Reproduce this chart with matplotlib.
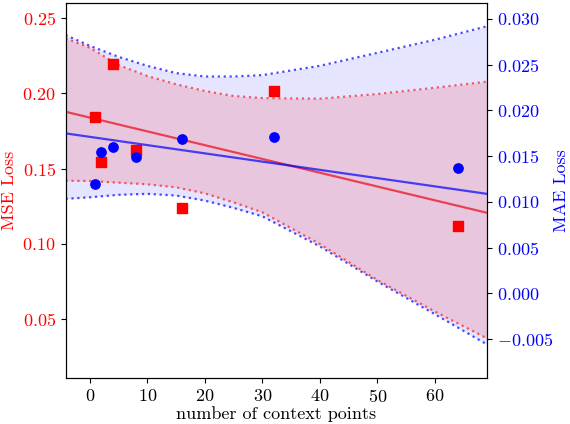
import numpy as np
import matplotlib
matplotlib.use('Agg')
import matplotlib.pyplot as plt

plt.rcParams['font.family'] = 'serif'
plt.rcParams['font.serif'] = ['cmr10', 'DejaVu Serif']
plt.rcParams['mathtext.fontset'] = 'cm'
plt.rcParams['axes.formatter.use_mathtext'] = True
plt.rcParams['font.size'] = 13

# measured losses
context_points = [1, 2, 4, 8, 16, 32, 64]
mse_loss = [0.184, 0.154, 0.2194, 0.162, 0.1238, 0.2015, 0.112]
mae_loss = [0.0119, 0.01542, 0.01597, 0.0149, 0.01685, 0.01707, 0.01367]

# trend lines and 95% bands
band_x = [-4.2, 0, 5, 10, 15, 20, 25, 30, 40, 50, 60, 69]
mse_upper = [0.2365, 0.2303, 0.2188, 0.2115, 0.2060, 0.2015,
             0.1982, 0.1968, 0.1964, 0.1995, 0.2037, 0.2077]
mse_lower = [0.1419, 0.1417, 0.1406, 0.1395, 0.1375, 0.1335,
             0.1275, 0.1209, 0.0998, 0.0759, 0.0549, 0.0372]
mae_upper = [0.02824, 0.02707, 0.02586, 0.02488, 0.02408, 0.02371,
             0.02371, 0.02386, 0.02488, 0.02630, 0.02773, 0.02920]
mae_lower = [0.01033, 0.01050, 0.01077, 0.01088, 0.01069, 0.01014,
             0.00934, 0.00842, 0.00513, 0.00129, -0.00229, -0.00558]
trend_x = [-4.2, 69]
mse_trend = [0.1877, 0.1206]
mae_trend = [0.01749, 0.01088]

mse_lim = (0.0108, 0.26)
mae_lim = (-0.00926, 0.03175)

fig = plt.figure(figsize=(5.7, 4.24), dpi=100)
ax = fig.add_axes([0.115, 0.1085, 0.739, 0.8845])
ax2 = ax.twinx()

# blue band at the bottom
ax2.fill_between(band_x, mae_lower, mae_upper, color='blue', alpha=0.1, lw=0)
ax2.plot(band_x, mae_lower, ':', color='blue', lw=1.6, alpha=0.7)
ax2.plot(band_x, mae_upper, ':', color='blue', lw=1.6, alpha=0.7)

# red band, line and squares above it
ax.set_zorder(ax2.get_zorder() + 1)
ax.patch.set_visible(False)
ax.fill_between(band_x, mse_lower, mse_upper, color='red', alpha=0.13, lw=0)
ax.plot(band_x, mse_lower, ':', color='red', lw=1.6, alpha=0.6)
ax.plot(band_x, mse_upper, ':', color='red', lw=1.6, alpha=0.6)
ax.plot(trend_x, mse_trend, color='#e8202e', lw=1.6, alpha=0.8)
ax.scatter(context_points, mse_loss, color='red', marker='s', s=42, zorder=5)

# blue line and dots on top
ax3 = ax.twinx()
ax3.set_zorder(ax.get_zorder() + 1)
ax3.patch.set_visible(False)
ax3.axis('off')
ax3.plot(trend_x, mae_trend, color='blue', lw=1.6, alpha=0.7)
ax3.scatter(context_points, mae_loss, color='blue', marker='o', s=45, zorder=5)

ax.set_xlim(-4.2, 69)
ax.set_ylim(*mse_lim)
ax2.set_ylim(*mae_lim)
ax3.set_ylim(*mae_lim)
ax.set_yticks([0.05, 0.10, 0.15, 0.20, 0.25])
ax2.set_yticks([-0.005, 0.0, 0.005, 0.010, 0.015, 0.020, 0.025, 0.030])
ax.set_xticks([0, 10, 20, 30, 40, 50, 60])
ax.tick_params(axis='y', labelcolor='red')
ax2.tick_params(axis='y', labelcolor='blue')

ax.set_xlabel('number of context points', labelpad=1)
ax.set_ylabel('MSE Loss', color='red')
ax2.set_ylabel('MAE Loss', color='blue', labelpad=1)

fig.savefig('out.png', dpi=100)
